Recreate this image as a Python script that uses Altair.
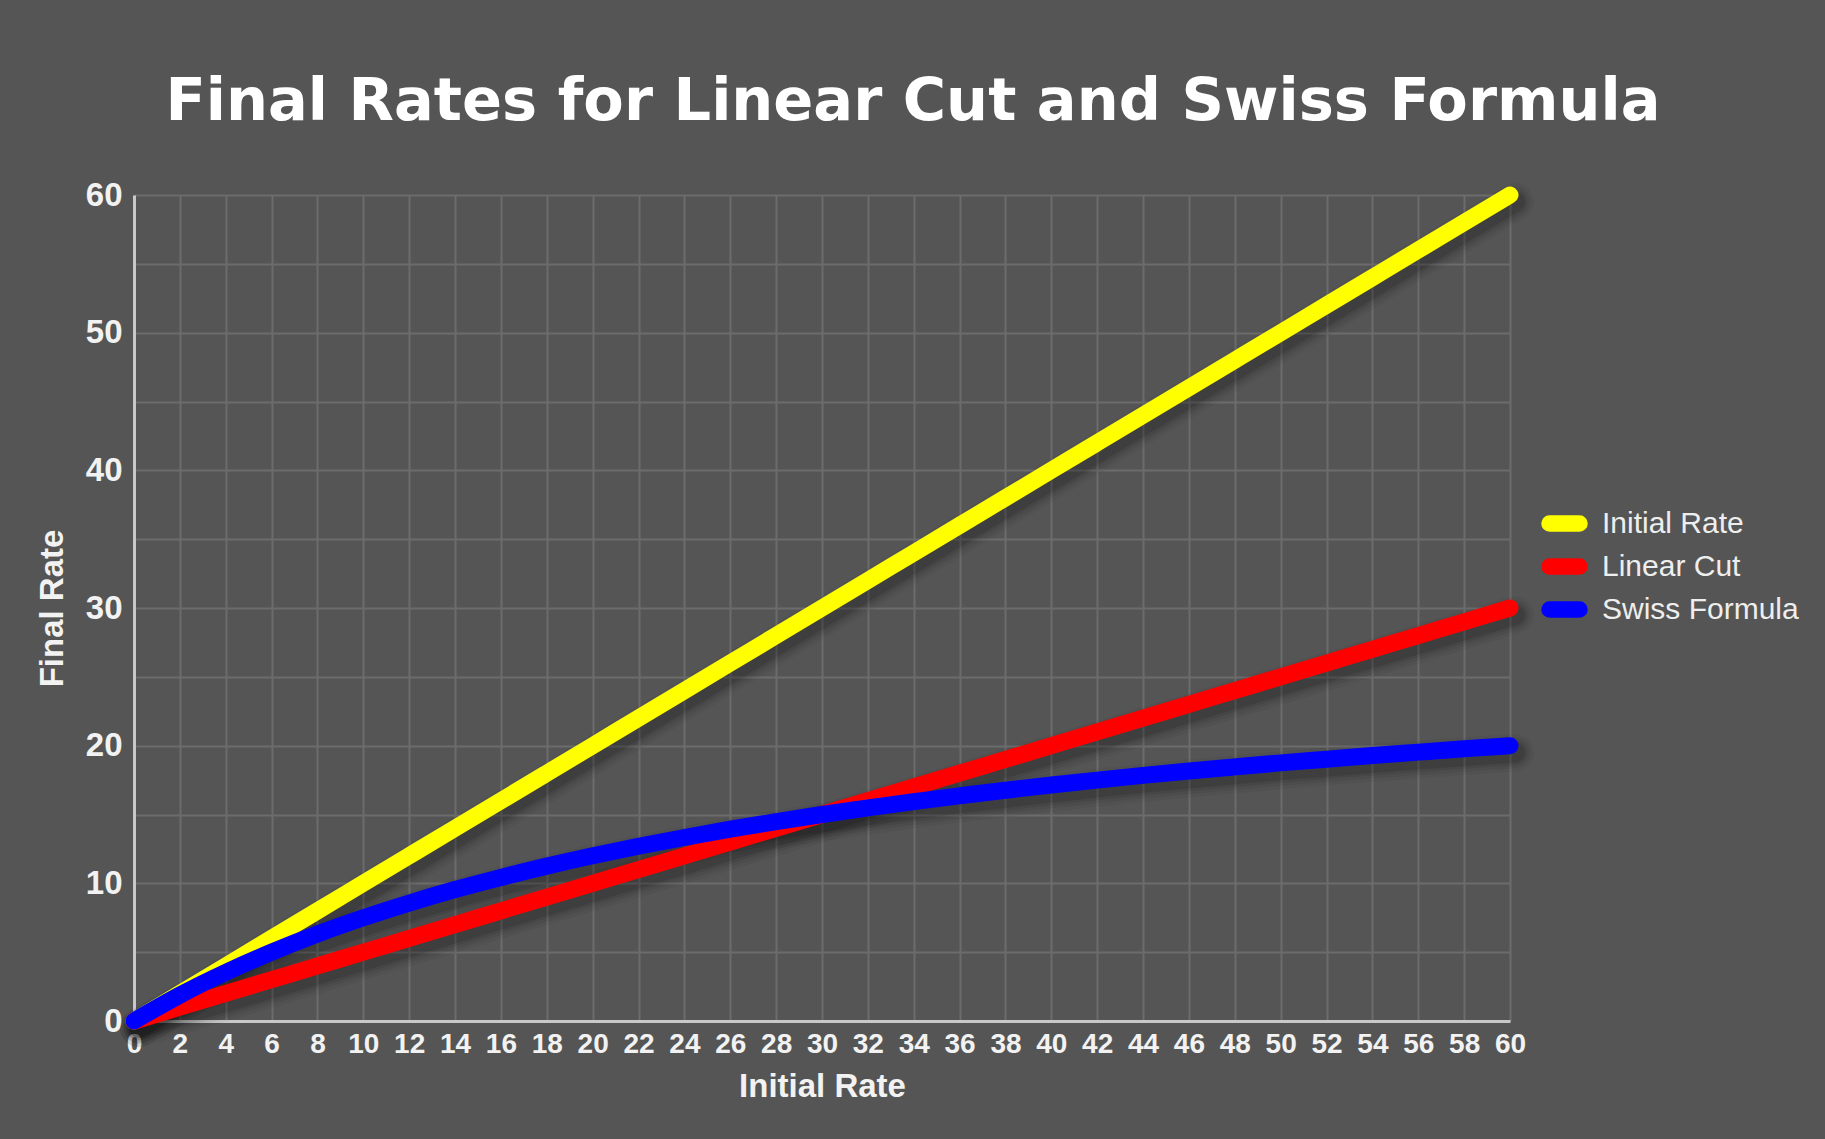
import altair as alt
import pandas as pd

# Initial tariff rates (x) and the resulting final rates for each scheme
initial_rate = [0, 2, 4, 6, 8, 10, 12, 14, 16, 18, 20, 22, 24, 26, 28, 30,
                32, 34, 36, 38, 40, 42, 44, 46, 48, 50, 52, 54, 56, 58, 60]
final_initial = [0, 2, 4, 6, 8, 10, 12, 14, 16, 18, 20, 22, 24, 26, 28, 30,
                 32, 34, 36, 38, 40, 42, 44, 46, 48, 50, 52, 54, 56, 58, 60]
final_linear = [0, 1, 2, 3, 4, 5, 6, 7, 8, 9, 10, 11, 12, 13, 14, 15,
                16, 17, 18, 19, 20, 21, 22, 23, 24, 25, 26, 27, 28, 29, 30]
final_swiss = [0, 1.88, 3.53, 5.0, 6.32, 7.5, 8.57, 9.55, 10.43, 11.25, 12.0,
               12.69, 13.33, 13.93, 14.48, 15.0, 15.48, 15.94, 16.36, 16.76,
               17.14, 17.5, 17.84, 18.16, 18.46, 18.75, 19.02, 19.29, 19.53,
               19.77, 20.0]

series_names = ["Initial Rate", "Linear Cut", "Swiss Formula"]
series_colors = ["#ffff00", "#ff0000", "#0000ff"]

rows = []
for name, ys in zip(series_names, [final_initial, final_linear, final_swiss]):
    for x, y in zip(initial_rate, ys):
        rows.append({"series": name, "initial": x, "final": y})
df = pd.DataFrame(rows)

W, H = 1376, 826
PAD = {"left": 134, "top": 195, "right": 315, "bottom": 118}

x_enc = alt.X(
    "initial:Q",
    scale=alt.Scale(domain=[0, 60], nice=False, zero=True),
    axis=alt.Axis(
        title="Initial Rate",
        values=list(range(0, 61, 2)),
        grid=True,
        ticks=False,
        tickSize=0,
        labelPadding=9,
        labelFlush=False,
        labelFont="Liberation Sans",
        labelFontWeight="bold",
        labelFontSize=28,
        labelColor="#f2f2f2",
        labelOverlap=False,
        titleFont="Liberation Sans",
        titleFontWeight="bold",
        titleFontSize=33,
        titleColor="#f2f2f2",
        titlePadding=12,
    ),
)
y_enc = alt.Y(
    "final:Q",
    scale=alt.Scale(domain=[0, 60], nice=False, zero=True),
    axis=alt.Axis(
        title="Final Rate",
        values=list(range(0, 61, 5)),
        labelExpr="datum.value % 10 == 0 ? datum.label : ''",
        grid=True,
        ticks=False,
        tickSize=0,
        labelPadding=12,
        labelFlush=False,
        labelFont="Liberation Sans",
        labelFontWeight="bold",
        labelFontSize=33,
        labelColor="#f2f2f2",
        labelOverlap=False,
        titleFont="Liberation Sans",
        titleFontWeight="bold",
        titleFontSize=33,
        titleColor="#f2f2f2",
        titlePadding=16,
    ),
)

color_enc = alt.Color(
    "series:N",
    scale=alt.Scale(domain=series_names, range=series_colors),
    legend=alt.Legend(
        title=None,
        orient="none",
        legendX=1411,
        legendY=309,
        padding=0,
        rowPadding=-2,
        symbolType="M-1,-0.25L1,-0.25A0.25,0.25 0 0 1 1,0.25L-1,0.25A0.25,0.25 0 0 1 -1,-0.25Z",
        symbolSize=900,
        symbolStrokeWidth=9,
        symbolOpacity=1,
        labelFont="Liberation Sans",
        labelFontSize=30,
        labelColor="#eeeeee",
        labelOffset=18,
        labelLimit=0,
    ),
)

base = alt.Chart(df)

# soft drop shadows under the thick lines
shadows = [
    base.mark_line(
        strokeWidth=w, opacity=op, strokeCap="round", strokeJoin="round",
        interpolate="monotone", xOffset=5, yOffset=7, color="black",
    ).encode(x=x_enc, y=y_enc, detail="series:N")
    for w, op in [(38, 0.04), (31, 0.06), (25, 0.08), (20, 0.10)]
]

lines = [
    base.transform_filter(alt.datum.series == name).mark_line(
        strokeWidth=17, strokeCap="round", strokeJoin="round",
        interpolate="monotone",
    ).encode(x=x_enc, y=y_enc, color=color_enc)
    for name in series_names
]

chart = alt.layer(*shadows, *lines).properties(
    width=W,
    height=H,
    padding=PAD,
    autosize=alt.AutoSizeParams(type="none"),
    background="#555555",
    title=alt.TitleParams(
        text="Final Rates for Linear Cut and Swiss Formula",
        font="DejaVu Sans",
        fontWeight="bold",
        fontSize=59,
        color="#ffffff",
        anchor="middle",
        frame="group",
        baseline="alphabetic",
        dx=91,
        offset=0,
    ),
).configure_view(
    stroke=None
).configure_axis(
    gridColor="#6c6c6c",
    gridWidth=2,
    gridOpacity=1,
    domainColor="#c8c8c8",
    domainWidth=3,
)

chart.save("out.html", embed_options={"renderer": "svg", "actions": False})
